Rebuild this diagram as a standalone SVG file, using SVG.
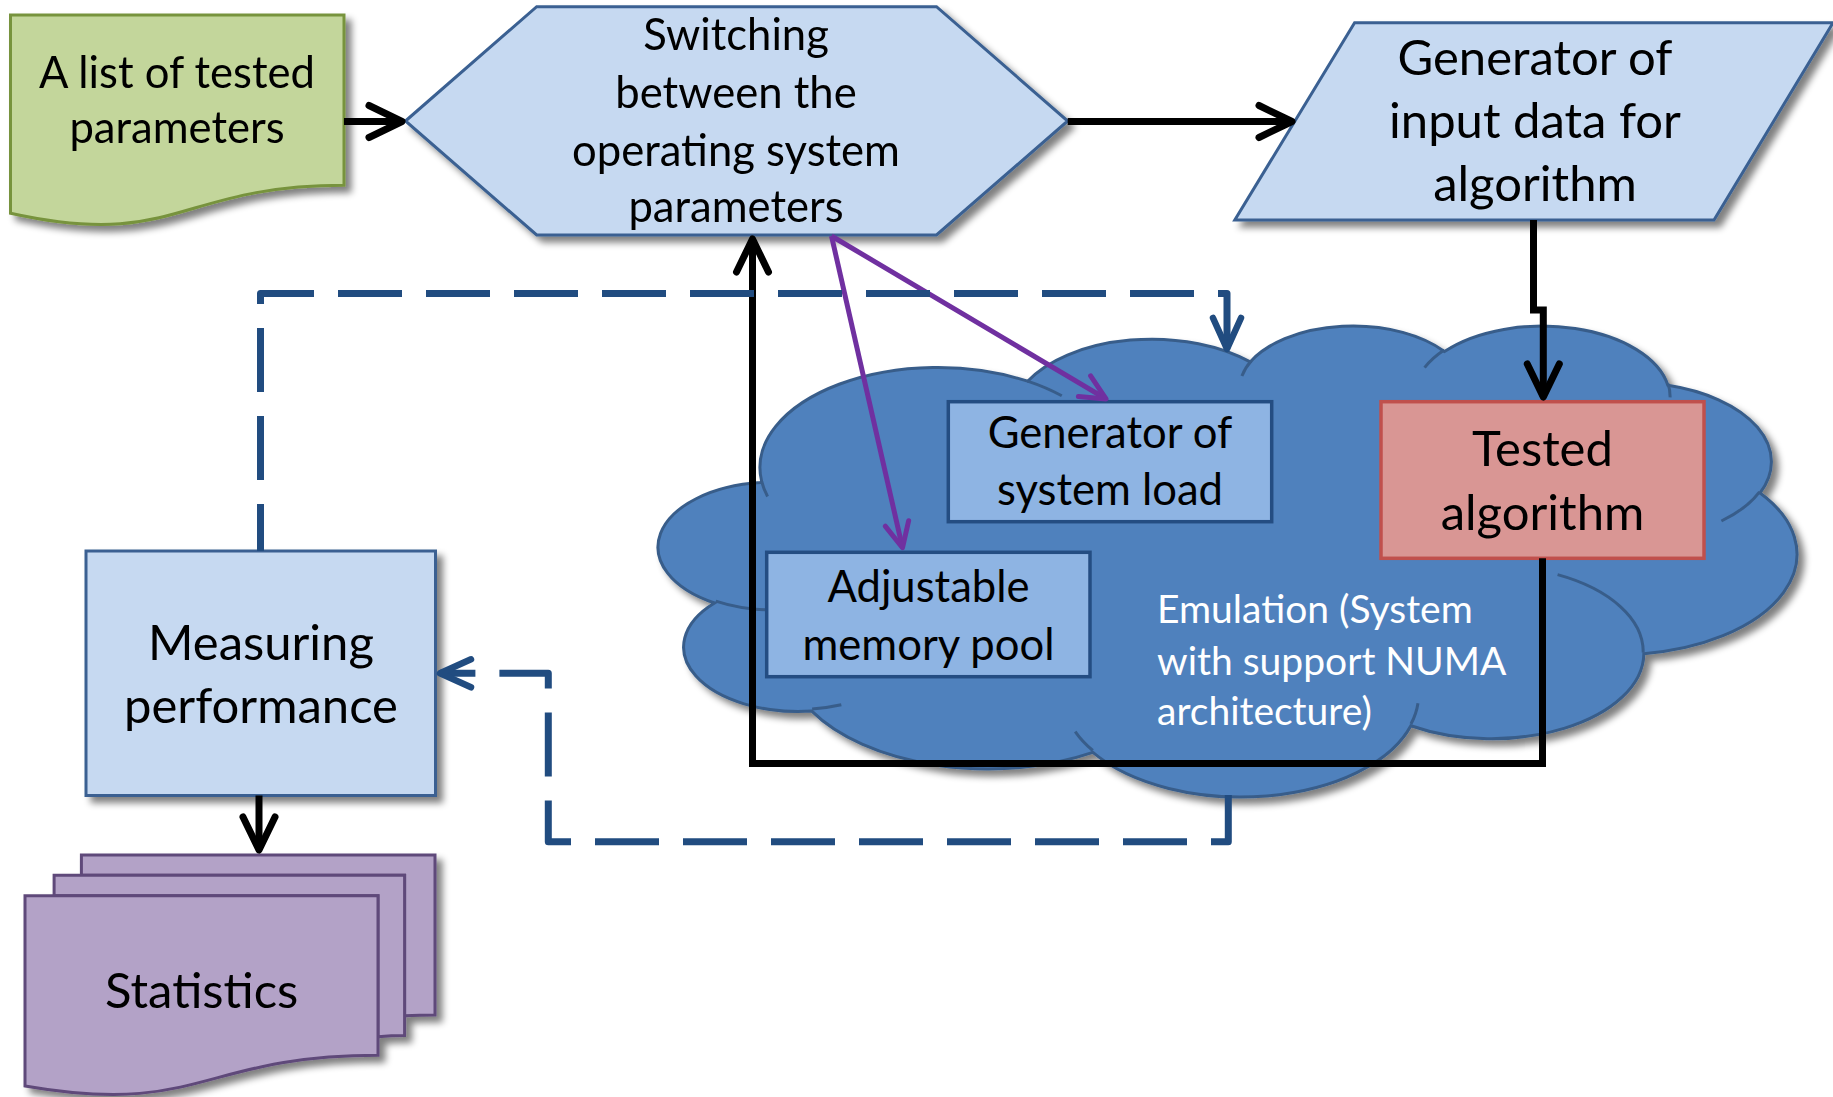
<svg xmlns="http://www.w3.org/2000/svg" width="1833" height="1097" viewBox="0 0 1833 1097">
  <style>
    text { font-family: Lato, "Liberation Sans", sans-serif; fill: #000; text-anchor: middle; }
    .s43 { font-size: 43.6px; }
    .s48 { font-size: 49px; }
    .emu { font-size: 39px; fill: #fff; text-anchor: start; }
    .light { fill: #C6D9F1; stroke: #3A6192; stroke-width: 3; stroke-linejoin: miter; }
    .inner { fill: #8EB4E3; stroke: #244D82; stroke-width: 3.5; }
    .red { fill: #D99694; stroke: #C0504D; stroke-width: 3.5; }
    .green { fill: #C3D69B; stroke: #77933C; stroke-width: 3; }
    .violet { fill: #B3A2C7; stroke: #5F497A; stroke-width: 3; }
    .cloud { fill: #4F81BD; stroke: #385D8A; stroke-width: 3; }
    .cloud-line { fill: none; stroke: #385D8A; stroke-width: 3; }
    .c-black { fill: none; stroke: #000; stroke-width: 7; stroke-linejoin: miter; marker-end: url(#ahBlack); }
    .c-dash { fill: none; stroke: #214C80; stroke-width: 7; stroke-dasharray: 64 24; stroke-linejoin: round; marker-end: url(#ahBlue); }
    .c-purple { fill: none; stroke: #7030A0; stroke-width: 5; marker-end: url(#ahPurple); }
  </style>
  <defs>
    <filter id="shadow" x="-10%" y="-10%" width="130%" height="135%">
      <feGaussianBlur in="SourceAlpha" stdDeviation="3.5"/>
      <feOffset dx="6" dy="6" result="blur"/>
      <feComponentTransfer><feFuncA type="linear" slope="0.5"/></feComponentTransfer>
      <feMerge><feMergeNode/><feMergeNode in="SourceGraphic"/></feMerge>
    </filter>
    <marker id="ahBlack" markerUnits="userSpaceOnUse" refX="0" refY="0" markerWidth="1" markerHeight="1" orient="auto" overflow="visible">
      <path d="M-33,-16 L0,0 L-33,16" fill="none" stroke="#000" stroke-width="7" stroke-linecap="round" stroke-linejoin="round"/>
    </marker>
    <marker id="ahBlue" markerUnits="userSpaceOnUse" refX="0" refY="0" markerWidth="1" markerHeight="1" orient="auto" overflow="visible">
      <path d="M-31,-14 L0,0 L-31,14" fill="none" stroke="#214C80" stroke-width="6.5" stroke-linecap="round" stroke-linejoin="round"/>
    </marker>
    <marker id="ahPurple" markerUnits="userSpaceOnUse" refX="0" refY="0" markerWidth="1" markerHeight="1" orient="auto" overflow="visible">
      <path d="M-25,-12 L0,0 L-25,12" fill="none" stroke="#7030A0" stroke-width="5" stroke-linecap="round" stroke-linejoin="round"/>
    </marker>
  </defs>

  <rect width="1833" height="1097" fill="#fff"/>

  <!-- emulation environment (cloud) -->
  <g id="emulation" filter="url(#shadow)">
    <g transform="translate(658.9,324.5) scale(0.026332,0.010898)">
      <path class="cloud" vector-effect="non-scaling-stroke" d="M3900,14370 A6753,9190 0 0 1 14005,5202 A5333,7267 0 0 1 22456,3434 A4365,5945 0 0 1 29832,2481 A4857,6595 0 0 1 38317,5576 A5333,7273 0 0 1 41818,15460 A6775,9220 0 0 1 37405,30205 A5785,7867 0 0 1 28556,36816 A6752,9215 0 0 1 16481,39267 A7720,10543 0 0 1 5806,35474 A4360,5918 0 0 1 2115,25552 A4345,5945 0 0 1 3865,14508 Z"/>
      <path class="cloud-line" vector-effect="non-scaling-stroke" d="M4693,26177 A4345,5945 0 0 1 2160,25380 M6928,34899 A4360,5918 0 0 1 5820,35281 M16478,39090 A6752,9215 0 0 1 15810,37349 M28827,34751 A6752,9215 0 0 1 28560,36660 M34129,22954 A5785,7867 0 0 1 37380,30090 M41798,15354 A5333,7273 0 0 1 40350,18031 M38324,5426 A4857,6595 0 0 1 38401,6690 M29078,3952 A4857,6595 0 0 1 29820,2339 M22141,4720 A4365,5945 0 0 1 22500,3331 M14000,5192 A6753,9190 0 0 1 15300,6541 M4127,15789 A6753,9190 0 0 1 3900,14371"/>
    </g>
  </g>
  <g id="emulation-label">
    <text class="emu" x="1157" y="623">Emulation (System</text>
    <text class="emu" x="1157" y="675">with support NUMA</text>
    <text class="emu" x="1157" y="725">architecture)</text>
  </g>

  <!-- input list -->
  <g id="parameter-list" filter="url(#shadow)">
    <path class="green" d="M10.5,15 H344 V185.3 C177.3,185.3 177.3,250.1 10.5,213.3 Z"/>
    <text class="s43" x="177" y="88">A list of tested</text>
    <text class="s43" x="177" y="143">parameters</text>
  </g>

  <!-- parameter switching -->
  <g id="switching" filter="url(#shadow)">
    <polygon class="light" points="405.5,121 536.7,6.7 936.5,6.7 1067.7,121 936.5,235 536.7,235"/>
    <text class="s43" x="736" y="50">Switching</text>
    <text class="s43" x="736" y="108">between the</text>
    <text class="s43" x="736" y="165.5">operating system</text>
    <text class="s43" x="736" y="222">parameters</text>
  </g>

  <!-- input data generator -->
  <g id="input-generator" filter="url(#shadow)">
    <polygon class="light" points="1354.6,22.7 1833,22.7 1714,220 1234.8,220"/>
    <text class="s48" x="1535" y="75">Generator of</text>
    <text class="s48" x="1535" y="138">input data for</text>
    <text class="s48" x="1535" y="201">algorithm</text>
  </g>

  <!-- load generator -->
  <g id="load-generator">
    <rect class="inner" x="948.3" y="401.7" width="323.4" height="120"/>
    <text class="s43" x="1110" y="448">Generator of</text>
    <text class="s43" x="1110" y="505">system load</text>
  </g>

  <!-- memory pool -->
  <g id="memory-pool">
    <rect class="inner" x="766.7" y="552.3" width="323.3" height="124.4"/>
    <text class="s43" x="928.5" y="601.7">Adjustable</text>
    <text class="s43" x="928.5" y="660">memory pool</text>
  </g>

  <!-- algorithm under test -->
  <g id="tested-algorithm">
    <rect class="red" x="1381" y="401.7" width="323" height="156.6"/>
    <text class="s48" x="1542.5" y="465.7">Tested</text>
    <text class="s48" x="1542.5" y="530">algorithm</text>
  </g>

  <!-- performance measurement -->
  <g id="measuring" filter="url(#shadow)">
    <rect class="light" x="86" y="551" width="349.5" height="244.5"/>
    <text class="s48" x="261" y="660">Measuring</text>
    <text class="s48" x="261" y="723">performance</text>
  </g>

  <!-- statistics (stacked documents) -->
  <g id="statistics" filter="url(#shadow)">
    <path class="violet" d="M81.4,855 H435 V1014.9 C419.8,1014.9 404.6,1015.7 404.6,1015.7 V875.2 H81.4 Z"/>
    <path class="violet" d="M54.1,875.2 H404.6 V1035.6 C391.3,1035.6 378,1036.7 378,1036.7 V895.8 H54.1 Z"/>
    <path class="violet" d="M25,895.8 H378 V1055.2 C201.5,1055.2 201.5,1116.6 25,1085.9 Z"/>
    <text class="s48" x="201.7" y="1008.3">Statistics</text>
  </g>

  <!-- connectors -->
  <g id="connectors">
    <path class="c-black" d="M344,121.5 H402"/>
    <path class="c-black" d="M1067.7,121.5 H1292"/>
    <path class="c-black" d="M1533.5,220 V310 H1543.3 V397"/>
    <path class="c-black" d="M1542.5,558.3 V763.5 H752.5 V239"/>
    <path class="c-black" d="M259,795.5 V850"/>
    <path class="c-purple" d="M831.5,236 L1106,398.9"/>
    <path class="c-purple" d="M831.5,236 L902.5,547.8"/>
    <path class="c-dash" style="stroke-dashoffset:17" d="M260.5,551 V293.5 H1227 V349"/>
    <path class="c-dash" d="M1228.3,795 V841.7 H548.3 V673.3 H440"/>
  </g>
</svg>
